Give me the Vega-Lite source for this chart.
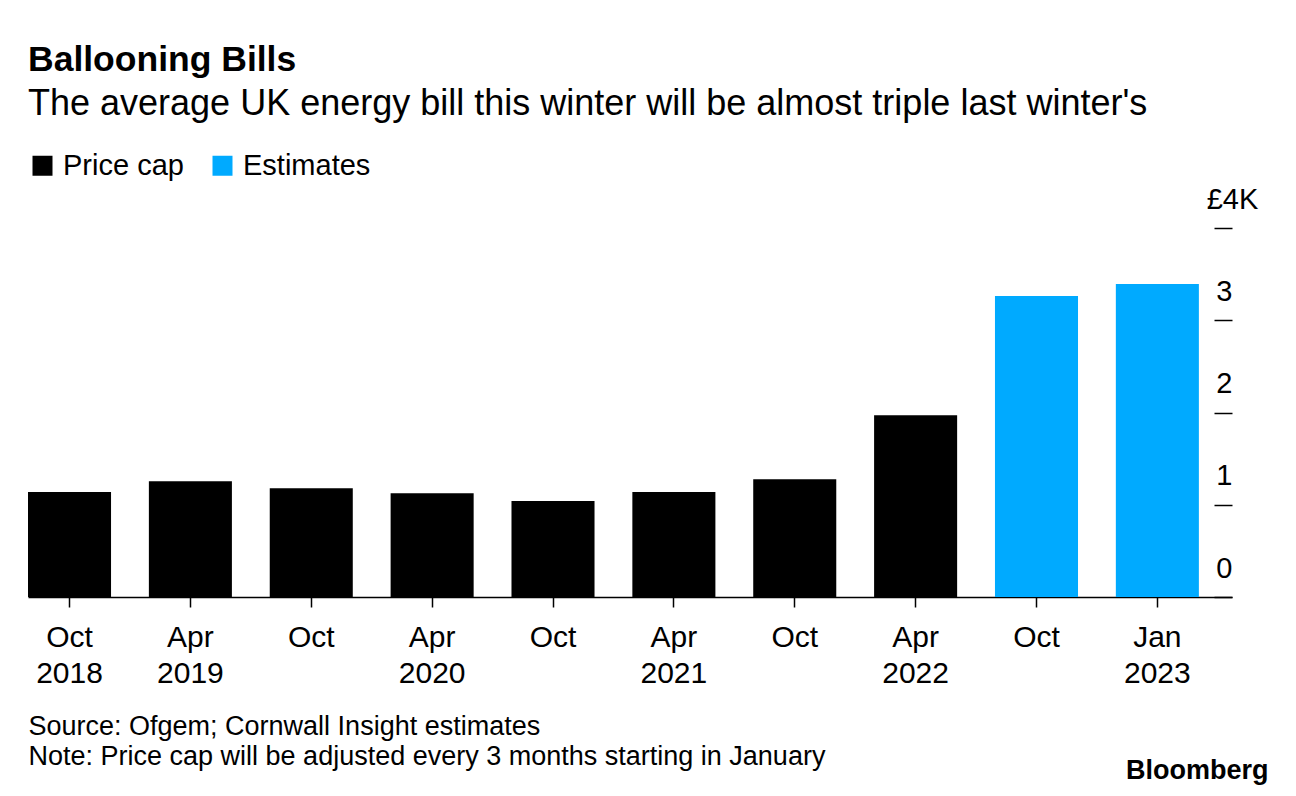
{
  "$schema": "https://vega.github.io/schema/vega-lite/v6.json",
  "autosize": "none",
  "width": 1204,
  "height": 369,
  "padding": {"left": 28, "top": 228, "right": 64, "bottom": 199},
  "background": "white",
  "config": {"view": {"stroke": null}, "font": "Liberation Sans"},
  "title": {
    "text": "Ballooning Bills",
    "subtitle": "The average UK energy bill this winter will be almost triple last winter's",
    "anchor": "start",
    "frame": "group",
    "fontSize": 35.5,
    "fontWeight": "bold",
    "subtitleFontSize": 36,
    "color": "black",
    "subtitleColor": "black",
    "subtitlePadding": 9,
    "offset": 29
  },
  "data": {
    "values": [
      {"period": "Oct 2018", "value": 1137, "type": "Price cap"},
      {"period": "Apr 2019", "value": 1254, "type": "Price cap"},
      {"period": "Oct 2019", "value": 1179, "type": "Price cap"},
      {"period": "Apr 2020", "value": 1126, "type": "Price cap"},
      {"period": "Oct 2020", "value": 1042, "type": "Price cap"},
      {"period": "Apr 2021", "value": 1138, "type": "Price cap"},
      {"period": "Oct 2021", "value": 1277, "type": "Price cap"},
      {"period": "Apr 2022", "value": 1971, "type": "Price cap"},
      {"period": "Oct 2022", "value": 3263, "type": "Estimates"},
      {"period": "Jan 2023", "value": 3393, "type": "Estimates"}
    ]
  },
  "mark": {"type": "bar"},
  "encoding": {
    "x": {
      "field": "period",
      "type": "nominal",
      "sort": null,
      "scale": {"paddingInner": 0.313, "paddingOuter": 0.137, "align": 0},
      "axis": {
        "title": ["Source: Ofgem; Cornwall Insight estimates", "Note: Price cap will be adjusted every 3 months starting in January"],
        "titleAnchor": "start",
        "titleAlign": "left",
        "titleBaseline": "alphabetic",
        "titleX": 0,
        "titleY": 137,
        "titleFontSize": 27,
        "titleFontWeight": "normal",
        "titleColor": "black",
        "titleLineHeight": 30,
        "labelExpr": "indexof(['Oct 2019','Oct 2020','Oct 2021','Oct 2022'], datum.label) >= 0 ? slice(datum.label, 0, 3) : split(datum.label, ' ')",
        "labelFontSize": 30,
        "labelLineHeight": 36,
        "labelColor": "black",
        "labelAngle": 0,
        "labelPadding": 15,
        "tickSize": 10,
        "tickColor": "black",
        "tickWidth": 1.5,
        "domainColor": "black",
        "domainWidth": 1.5,
        "grid": false
      }
    },
    "y": {
      "field": "value",
      "type": "quantitative",
      "scale": {"domain": [0, 4000], "nice": false},
      "axis": {
        "orient": "right",
        "values": [0, 1000, 2000, 3000, 4000],
        "labelExpr": "datum.value == 4000 ? '£4K' : format(datum.value / 1000, 'd')",
        "offset": -18,
        "tickSize": 18,
        "tickColor": "black",
        "tickWidth": 1.5,
        "domain": false,
        "grid": false,
        "labelPadding": 0,
        "labelAlign": {"condition": {"test": "datum.value == 4000", "value": "center"}, "value": "right"},
        "labelBaseline": "alphabetic",
        "labelOffset": -20,
        "labelFontSize": 29,
        "labelColor": "black",
        "title": "Bloomberg",
        "titleAngle": 0,
        "titleAlign": "right",
        "titleBaseline": "alphabetic",
        "titleX": 54,
        "titleY": 550,
        "titleFontSize": 27,
        "titleFontWeight": "bold",
        "titleColor": "black"
      }
    },
    "color": {
      "field": "type",
      "type": "nominal",
      "scale": {"domain": ["Price cap", "Estimates"], "range": ["#000000", "#00AAFF"]},
      "legend": {
        "orient": "none",
        "legendX": 0,
        "legendY": -77,
        "direction": "horizontal",
        "title": null,
        "symbolType": "square",
        "symbolSize": 400,
        "symbolStrokeWidth": 0,
        "labelFontSize": 29,
        "labelColor": "black",
        "labelOffset": 6,
        "columnPadding": 24
      }
    }
  }
}
